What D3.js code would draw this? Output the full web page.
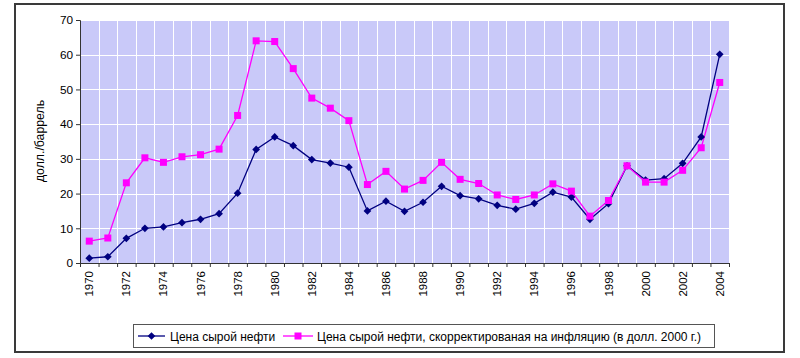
<!DOCTYPE html>
<html><head><meta charset="utf-8">
<script src="https://cdn.jsdelivr.net/npm/d3@7"></script>
<style>
html,body{margin:0;padding:0;background:#fff;}
svg{display:block;font-family:"Liberation Sans",Arial,sans-serif;}
</style></head>
<body>
<svg id="chart" width="800" height="358"></svg>
<script>
const years = d3.range(1970, 2005);
const nominal = [1.4,1.8,7.1,10.0,10.4,11.6,12.6,14.2,20.1,32.7,36.3,33.8,29.8,28.8,27.6,15.0,17.8,14.9,17.5,22.1,19.4,18.5,16.6,15.5,17.2,20.4,19.0,12.6,17.1,28.0,23.9,24.3,28.7,36.3,60.1];
const real = [6.3,7.2,23.1,30.3,29.0,30.6,31.2,32.8,42.5,64.0,63.8,56.0,47.5,44.6,41.0,22.6,26.4,21.3,23.8,29.0,24.1,22.9,19.6,18.3,19.6,22.8,20.7,13.5,18.0,28.0,23.3,23.3,26.7,33.2,52.0];
const yTicks = [0,10,20,30,40,50,60,70];
const seriesNames = ["Цена сырой нефти","Цена сырой нефти, скорректированая на инфляцию (в долл. 2000 г.)"];
const yTitle = "долл./баррель";

const svg = d3.select("#chart");
const L = 80, R = 729, T = 20, B = 263;

// outer frame
svg.append("rect").attr("x",15).attr("y",4).attr("width",769).attr("height",348)
  .attr("fill","#fff").attr("stroke","#3a3a3a").attr("stroke-width",2);

const x = d3.scaleBand().domain(years).range([L,R]).padding(0);
const xEdge = d3.scaleLinear().domain([0, years.length]).range([L,R]);
const y = d3.scaleLinear().domain([0,70]).range([B,T]);

svg.append("rect").attr("x",L).attr("y",T).attr("width",R-L).attr("height",B-T).attr("fill","#c9c9f9");

// gridlines
const grid = svg.append("g").attr("stroke","#fff").attr("stroke-width",1);
grid.selectAll("line.v").data(d3.range(1, years.length)).join("line")
  .attr("x1",d=>Math.round(xEdge(d))+0.5).attr("x2",d=>Math.round(xEdge(d))+0.5)
  .attr("y1",T).attr("y2",B);
grid.selectAll("line.h").data(yTicks.slice(1)).join("line")
  .attr("x1",L).attr("x2",R)
  .attr("y1",d=>Math.round(y(d))+0.5).attr("y2",d=>Math.round(y(d))+0.5);

// y axis
const yAxis = svg.append("g").attr("transform",`translate(${L},0)`)
  .call(d3.axisLeft(y).tickValues(yTicks).tickSize(4).tickPadding(3));
yAxis.select(".domain").attr("stroke","#333");
yAxis.selectAll(".tick line").attr("stroke","#333");
yAxis.selectAll("text").attr("font-size",11.8).attr("fill","#000").attr("font-family","Liberation Sans, Arial, sans-serif");

// x axis tick marks at boundaries
const xAxis = svg.append("g").attr("transform",`translate(0,${B})`)
  .call(d3.axisBottom(xEdge).tickValues(d3.range(0, years.length+1)).tickSize(4).tickFormat(""));
xAxis.select(".domain").attr("stroke","#333");
xAxis.selectAll(".tick line").attr("stroke","#333");

// x labels
const xLab = svg.append("g").attr("transform",`translate(0,${B})`)
  .call(d3.axisBottom(x).tickValues(years.filter(d=>d%2===0)).tickSize(0));
xLab.select(".domain").remove();
xLab.selectAll("text").attr("transform","rotate(-90)").attr("x",-8).attr("y",0).attr("dy","0.35em")
  .attr("text-anchor","end").attr("font-size",11.5).attr("fill","#000").attr("font-family","Liberation Sans, Arial, sans-serif");

// y title
svg.append("text").attr("transform","translate(44,141) rotate(-90)").attr("text-anchor","middle")
  .attr("font-size",12.3).text(yTitle);

// lines
const line = d3.line().x((d,i)=>x(years[i])+x.bandwidth()/2).y(d=>y(d));
svg.append("path").datum(nominal).attr("d",line).attr("fill","none").attr("stroke","#000080").attr("stroke-width",1.3);
svg.append("path").datum(real).attr("d",line).attr("fill","none").attr("stroke","#ff00ff").attr("stroke-width",1.3);

const diamond = d3.symbol().type(d3.symbolSquare).size(30);
svg.append("g").selectAll("path").data(nominal).join("path")
  .attr("d",diamond)
  .attr("transform",(d,i)=>`translate(${x(years[i])+x.bandwidth()/2},${y(d)}) rotate(45)`)
  .attr("fill","#000080");
svg.append("g").selectAll("rect").data(real).join("rect")
  .attr("x",(d,i)=>x(years[i])+x.bandwidth()/2-3.5).attr("y",d=>y(d)-3.5)
  .attr("width",7).attr("height",7).attr("fill","#ff00ff");

// legend
const lg = svg.append("g");
lg.append("rect").attr("x",133.5).attr("y",324.5).attr("width",581).attr("height",23)
  .attr("fill","#fff").attr("stroke","#555").attr("stroke-width",1);
lg.append("line").attr("x1",138).attr("x2",165).attr("y1",336).attr("y2",336).attr("stroke","#000080").attr("stroke-width",1.3);
lg.append("path").attr("d",diamond).attr("transform","translate(151.5,336) rotate(45)").attr("fill","#000080");
lg.append("text").attr("x",170).attr("y",340.5).attr("font-size",12).text(seriesNames[0]);
lg.append("line").attr("x1",283).attr("x2",313).attr("y1",336).attr("y2",336).attr("stroke","#ff00ff").attr("stroke-width",1.3);
lg.append("rect").attr("x",294.5).attr("y",332.5).attr("width",7).attr("height",7).attr("fill","#ff00ff");
lg.append("text").attr("x",317).attr("y",340.5).attr("font-size",12).text(seriesNames[1]);
</script>
</body></html>
